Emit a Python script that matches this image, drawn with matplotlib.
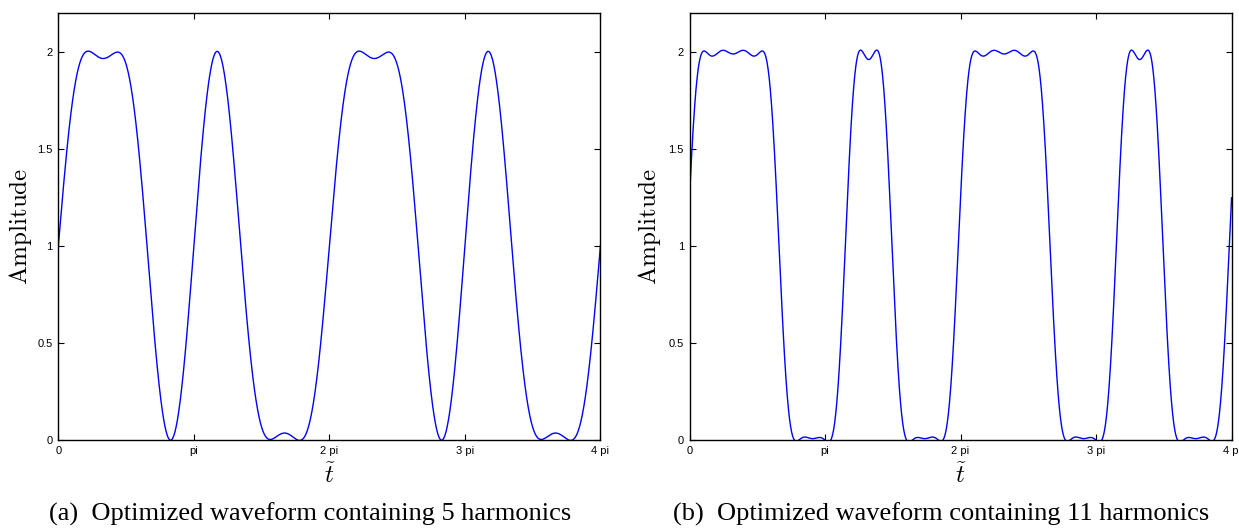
import numpy as np
import matplotlib.pyplot as plt

plt.rcParams['font.family'] = ['Liberation Sans', 'DejaVu Sans']
plt.rcParams['mathtext.fontset'] = 'cm'

# (a) 5 harmonics: offset + sine amplitudes for k = 1..5
A_OFFSET = 1.0
A_SIN = [0.5511, 0.8752, -0.3252, 0.2554, 0.0577]

# (b) 11 harmonics: cosine amplitudes for k = 0..11 around a phase of B_PHASE*pi
B_PHASE = 0.322
B_COS = [1.0217, 0.4483, 1.0505, -0.4025, -0.0144, -0.2379,
         -0.0025, 0.1639, -0.0168, 0.0496, -0.0654, -0.0071]

XTICK_LABELS = ['0', 'pi', '2 pi', '3 pi', '4 pi']
YTICKS = [0, 0.5, 1, 1.5, 2]
YTICK_LABELS = ['0', '0.5', '1', '1.5', '2']
CAPTIONS = ['(a)  Optimized waveform containing 5 harmonics',
            '(b)  Optimized waveform containing 11 harmonics']

t = np.linspace(0, 4 * np.pi, 4000)
wave_a = A_OFFSET + sum(c * np.sin(k * t) for k, c in enumerate(A_SIN, start=1))
wave_b = sum(c * np.cos(k * (t - B_PHASE * np.pi)) for k, c in enumerate(B_COS))

fig = plt.figure(figsize=(12.39, 5.29), dpi=100)
ax1 = fig.add_axes([0.0471, 0.1682, 0.4375, 0.8078])
ax2 = fig.add_axes([0.5565, 0.1682, 0.4375, 0.8078])

for ax, wave, cap, cx, ylx in [(ax1, wave_a, CAPTIONS[0], 310, -0.0707),
                               (ax2, wave_b, CAPTIONS[1], 941, -0.0736)]:
    ax.plot(t, wave, color='#0000ff', lw=1.0)
    ax.set_xlim(0, 4 * np.pi)
    ax.set_ylim(0, 2.2)
    ax.set_xticks(np.arange(5) * np.pi, XTICK_LABELS)
    ax.set_yticks(YTICKS, YTICK_LABELS)
    ax.tick_params(direction='in', top=True, right=True, length=4, width=0.8,
                   labelsize=8, pad=4)
    for sp in ax.spines.values():
        sp.set_linewidth(1.0)
    ax.set_ylabel(r'$\mathrm{Amplitude}$', fontsize=18, va='center')
    ax.yaxis.set_label_coords(ylx, 0.5)
    ax.set_xlabel(r'$\tilde{t}$', fontsize=18, va='center')
    ax.xaxis.set_label_coords(0.5, -0.083)
    fig.text(cx / 1239, 1 - 521 / 529, cap, family='Liberation Serif', fontsize=19,
             ha='center', va='baseline')

fig.savefig("out.png", dpi=100)
